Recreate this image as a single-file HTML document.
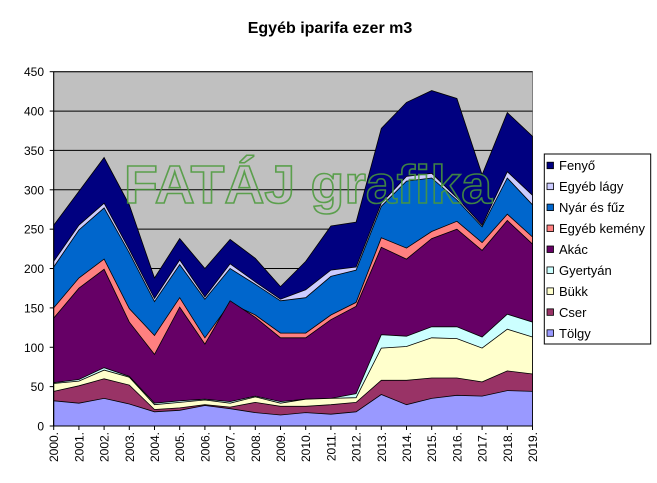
<!DOCTYPE html>
<html><head><meta charset="utf-8"><style>
body{margin:0;background:#fff}
svg{display:block;font-family:"Liberation Sans",Arial,sans-serif}
</style></head><body>
<svg id="s" width="657" height="483" viewBox="0 0 657 483" xmlns="http://www.w3.org/2000/svg">
<rect width="657" height="483" fill="#fff"/>
<text x="330" y="33" font-size="16" font-weight="bold" text-anchor="middle">Egyéb iparifa ezer m3</text>
<rect x="53.7" y="71.7" width="478.8" height="354.3" fill="#C0C0C0" stroke="#808080"/>
<g id="grid"></g>
<g id="areas"></g>
<text x="308" y="203" font-size="54" font-weight="bold" fill="none" stroke="#4a9a3a" stroke-width="1.6" text-anchor="middle" textLength="368" lengthAdjust="spacingAndGlyphs" opacity="0.85">FATÁJ grafika</text>
<g id="axes"></g>
<rect x="544.3" y="154" width="106.4" height="190" fill="#fff" stroke="#000"/>
<g id="legend" font-size="13"></g>
</svg>
<script>
var X0=53.7,DX=25.2,Y0=426,K=354.3/450;
var ns="http://www.w3.org/2000/svg";
function el(t,a,p,txt){var e=document.createElementNS(ns,t);for(var k in a)e.setAttribute(k,a[k]);if(txt!==undefined)e.textContent=txt;document.getElementById(p).appendChild(e);return e;}
var cum=[
["Tölgy","#9999FF",[32,29,35,28,18,20,26,22,17,14,17,15,18,40,27,35,39,38,45,44]],
["Cser","#993366",[44,51,60,52,21,23,27,24,30,25,25,27,30,58,58,61,61,56,70,66]],
["Bükk","#FFFFCC",[54,57,71,62,27,30,33,29,37,29,34,35,36,99,101,112,111,99,123,113]],
["Gyertyán","#CCFFFF",[55,59,74,63,29,32,34,31,38,31,34,35,41,116,114,126,126,113,142,132]],
["Akác","#660066",[137,175,199,132,91,151,104,159,138,112,112,135,152,227,212,238,250,223,261,231]],
["Egyéb kemény","#FF8080",[150,188,212,149,115,163,112,156,141,118,118,141,157,239,226,247,260,233,269,240]],
["Nyár és fűz","#0066CC",[202,249,277,220,158,205,161,200,180,159,163,190,198,279,311,315,287,253,315,281]],
["Egyéb lágy","#CCCCFF",[209,255,283,224,162,211,164,206,183,161,173,198,202,283,317,321,290,255,323,293]],
["Fenyő","#000080",[255,298,341,281,188,238,200,237,213,177,209,254,259,378,411,426,416,319,398,368]]
];
for(var v=50;v<=450;v+=50){var y=Y0-v*K;el("line",{x1:X0,x2:532.5,y1:y,y2:y,stroke:"#000","stroke-width":1},"grid");}
for(var s=cum.length-1;s>=0;s--){var d=cum[s][2],pts=[];for(var i=0;i<20;i++)pts.push((X0+i*DX).toFixed(1)+","+(Y0-d[i]*K).toFixed(1));pts.push((X0+19*DX).toFixed(1)+","+Y0);pts.push(X0+","+Y0);el("polygon",{points:pts.join(" "),fill:cum[s][1],stroke:"#000","stroke-width":0.8},"areas");}
el("line",{x1:X0,x2:X0,y1:71.7,y2:Y0,stroke:"#000"},"axes");
el("line",{x1:X0,x2:532.5,y1:Y0,y2:Y0,stroke:"#000"},"axes");
for(var v=0;v<=450;v+=50){var y=Y0-v*K;el("line",{x1:X0-4,x2:X0,y1:y,y2:y,stroke:"#000"},"axes");el("text",{x:44,y:y+4.5,"font-size":12,"text-anchor":"end"},"axes",String(v));}
for(var i=0;i<20;i++){var x=X0+i*DX;el("line",{x1:x,x2:x,y1:Y0,y2:Y0+4,stroke:"#000"},"axes");el("text",{x:0,y:0,"font-size":12,"text-anchor":"end",transform:"translate("+(x+4.5)+",432) rotate(-90)"},"axes",(2000+i)+".");}
for(var j=0;j<9;j++){var it=cum[8-j],y=165.7+j*20.95;el("rect",{x:547,y:y-3.5,width:6.5,height:6.5,fill:it[1],stroke:"#000","stroke-width":0.8},"legend");el("text",{x:559,y:y+4.5},"legend",it[0]);}
</script>
</body></html>
